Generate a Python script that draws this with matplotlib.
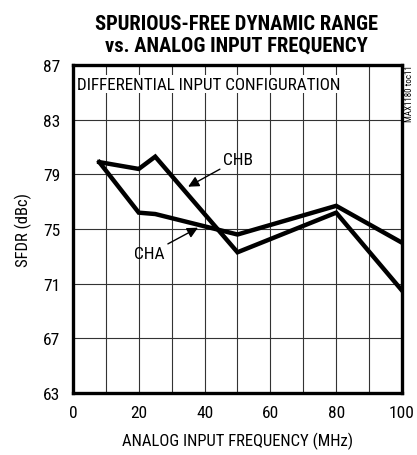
import matplotlib.pyplot as plt

plt.rcParams['font.family'] = ['Roboto Condensed', 'DejaVu Sans']

# data
freq = [8, 20, 25, 50, 80, 100]
cha = [79.9, 76.2, 76.1, 74.6, 76.7, 74.0]
chb = [79.9, 79.4, 80.3, 73.3, 76.2, 70.5]
xticks = [0, 20, 40, 60, 80, 100]
yticks = [63, 67, 71, 75, 79, 83, 87]

fig = plt.figure(figsize=(4.17, 4.56), dpi=100)
ax = fig.add_axes([0.175, 0.136, 0.789, 0.719])

ax.plot(freq, chb, color='black', lw=3.2, solid_joinstyle='miter', zorder=3)
ax.plot(freq, cha, color='black', lw=3.2, solid_joinstyle='miter', zorder=3)

ax.set_xlim(0, 100)
ax.set_ylim(63, 87)
ax.set_xticks(xticks)
ax.set_yticks(yticks)
ax.set_xticks(range(0, 101, 10), minor=True)
ax.grid(True, which='both', color='#333333', lw=0.8)
ax.tick_params(which='both', length=0, labelsize=12.5, pad=9)
for s in ax.spines.values():
    s.set_linewidth(2.4)

ax.set_xlabel('ANALOG INPUT FREQUENCY (MHz)', fontsize=12, labelpad=8)
ax.set_ylabel('SFDR (dBc)', fontsize=12, labelpad=8)

ax.text(1.3, 85.6, 'DIFFERENTIAL INPUT CONFIGURATION', fontsize=12.3, va='center', ha='left',
        bbox=dict(facecolor='white', edgecolor='none', pad=1), zorder=4)

ax.annotate('CHB', xy=(35, 78.1), xytext=(45.5, 80.1), fontsize=12.5, va='center', ha='left',
            arrowprops=dict(arrowstyle='-|>', color='black', lw=1, mutation_scale=16, shrinkA=0, shrinkB=0),
            zorder=4)
ax.annotate('CHA', xy=(38, 75.1), xytext=(28, 73.2), fontsize=12.5, va='center', ha='right',
            arrowprops=dict(arrowstyle='-|>', color='black', lw=1, mutation_scale=16, shrinkA=0, shrinkB=0),
            zorder=4)

fig.text(0.568, 0.967, 'SPURIOUS-FREE DYNAMIC RANGE\nvs. ANALOG INPUT FREQUENCY',
         fontsize=14.8, fontweight='bold', ha='center', va='top', linespacing=1.15)
fig.text(0.981, 0.857, 'MAX1180 toc11', fontsize=6.5, rotation=90, ha='center', va='top')

fig.savefig('out.png', dpi=100)
